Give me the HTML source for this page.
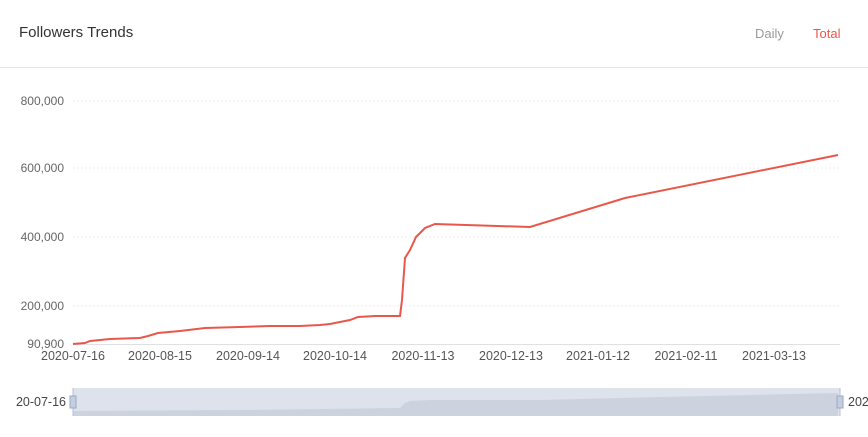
<!DOCTYPE html>
<html><head><style>
body{margin:0;background:#fff;width:868px;height:432px;overflow:hidden;font-family:"Liberation Sans",sans-serif;}
</style></head><body>
<svg width="868" height="432" xmlns="http://www.w3.org/2000/svg" font-family="Liberation Sans, sans-serif">
<text x="19" y="37" font-size="15" fill="#333">Followers Trends</text>
<text x="755" y="38" font-size="13" fill="#999">Daily</text>
<text x="813" y="38" font-size="13" fill="#e8584a">Total</text>
<line x1="0" y1="67.5" x2="868" y2="67.5" stroke="#e5e5e5"/>
<g stroke="#eee" stroke-dasharray="2,2">
<line x1="73" y1="101" x2="840" y2="101"/><line x1="73" y1="168" x2="840" y2="168"/>
<line x1="73" y1="237" x2="840" y2="237"/><line x1="73" y1="306" x2="840" y2="306"/>
</g>
<line x1="73" y1="344.5" x2="840" y2="344.5" stroke="#e0e0e0"/>
<g font-size="12" fill="#666" text-anchor="end">
<text x="64" y="105">800,000</text><text x="64" y="172">600,000</text>
<text x="64" y="241">400,000</text><text x="64" y="310">200,000</text><text x="64" y="348">90,900</text>
</g>
<g font-size="12.5" fill="#555" text-anchor="middle">
<text x="73" y="360">2020-07-16</text><text x="160" y="360">2020-08-15</text><text x="248" y="360">2020-09-14</text>
<text x="335" y="360">2020-10-14</text><text x="423" y="360">2020-11-13</text><text x="511" y="360">2020-12-13</text>
<text x="598" y="360">2021-01-12</text><text x="686" y="360">2021-02-11</text><text x="774" y="360">2021-03-13</text>
</g>
<polyline fill="none" stroke="#e8584a" stroke-width="2" points="73,344 85,343 90,341 110,339 140,338 148,336 158,333 180,331 205,328 240,327 270,326 300,326 320,325 330,324 340,322 350,320 358,317 375,316 385,316 400,316 402,300 405,258 410,250 416,237 425,228 435,224 530,227 625,198 838,155"/>
<rect x="73" y="388" width="767" height="28" fill="#dde2ec"/>
<polygon points="73,411 240,410 400,408 405,403 410,401 430,400 540,400 620,398 838,393 838,416 73,416" fill="#cdd3de"/>
<line x1="73" y1="388" x2="73" y2="416" stroke="#b8c2d6"/><line x1="840" y1="388" x2="840" y2="416" stroke="#b8c2d6"/>
<rect x="70" y="396" width="6" height="12" fill="#c5cee0" stroke="#9aa8c2"/>
<rect x="837" y="396" width="6" height="12" fill="#c5cee0" stroke="#9aa8c2"/>
<text x="66" y="406" font-size="12.5" fill="#444" text-anchor="end">20-07-16</text>
<text x="848" y="406" font-size="12.5" fill="#444">2021</text>
</svg>
</body></html>
